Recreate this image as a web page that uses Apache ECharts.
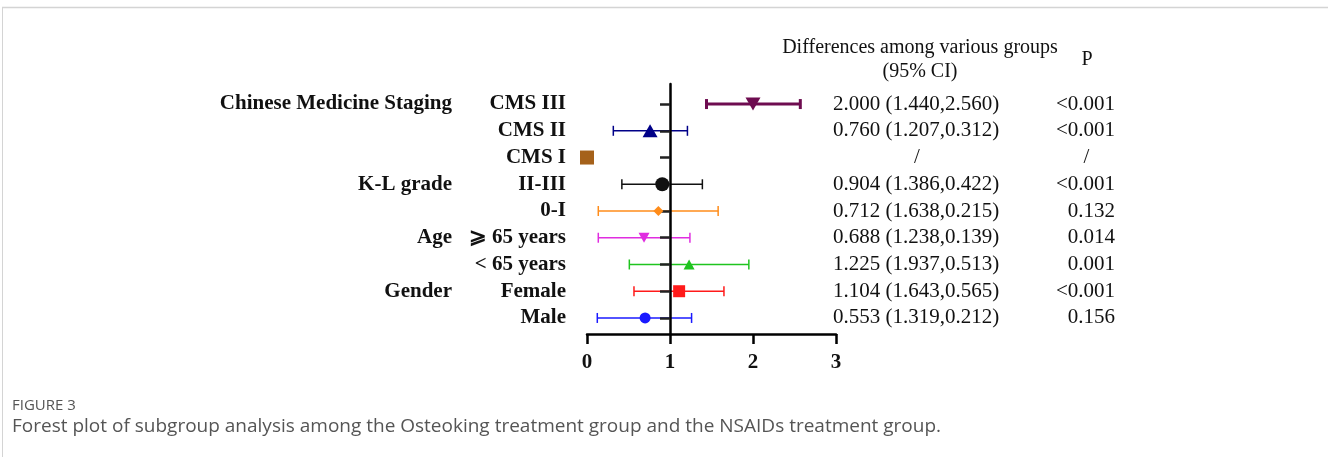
<!DOCTYPE html>
<html>
<head>
<meta charset="utf-8">
<script src="https://cdn.jsdelivr.net/npm/echarts@6/dist/echarts.min.js"></script>
<style>
html,body{margin:0;padding:0;background:#fff;}
#c{width:1328px;height:457px;}
</style>
</head>
<body>
<div id="c"></div>
<script>
// ---- data ----
var subLabels = ['CMS III', 'CMS II', 'CMS I', 'II-III', '0-I', '\u2A7E 65 years', '< 65 years', 'Female', 'Male'];
var groupLabels = ['Chinese Medicine Staging', '', '', 'K-L grade', '', 'Age', '', 'Gender', ''];
var estimates = [2.00, 0.76, 0.00, 0.907, 0.86, 0.687, 1.23, 1.11, 0.70];
var lower =     [1.44, 0.317, null, 0.42, 0.136, 0.136, 0.51, 0.566, 0.124];
var upper =     [2.57, 1.21, null, 1.39, 1.58, 1.24, 1.95, 1.65, 1.26];
var ciText = ['2.000 (1.440,2.560)', '0.760 (1.207,0.312)', '/', '0.904 (1.386,0.422)', '0.712 (1.638,0.215)',
              '0.688 (1.238,0.139)', '1.225 (1.937,0.513)', '1.104 (1.643,0.565)', '0.553 (1.319,0.212)'];
var pText = ['<0.001', '<0.001', '/', '<0.001', '0.132', '0.014', '0.001', '<0.001', '0.156'];
var xTicks = [0, 1, 2, 3];

// ---- styles ----
var colors = ['#6e0c50', '#000088', '#a5611a', '#111111', '#ff8c1a', '#e02de0', '#1fc41f', '#ff1a1a', '#1a1aff'];
var symbols = ['triangle', 'triangle', 'rect', 'circle', 'diamond', 'triangle', 'triangle', 'rect', 'circle'];
var rotations = [180, 0, 0, 0, 0, 180, 0, 0, 0];
var sizes = [[15, 13], [15, 13], 14, 14, 10, [11, 10], [11, 10], 12, 11];
var lineWidths = [3, 1.5, 1.5, 1.5, 1.5, 1.5, 1.5, 1.5, 1.5];

var SERIF = '"Liberation Serif", "Times New Roman", serif';
var rows = subLabels.map(function (_, i) { return i; });

var errData = [];
var ptData = [];
rows.forEach(function (i) {
  if (lower[i] !== null) errData.push([i, lower[i], upper[i]]);
  ptData.push({
    value: [estimates[i], i],
    symbol: symbols[i],
    symbolSize: sizes[i],
    symbolRotate: rotations[i],
    itemStyle: { color: colors[i], opacity: 1 }
  });
});

var yRange = { min: -0.75, max: 8.6 };

var chart = echarts.init(document.getElementById('c'), null, { renderer: 'canvas' });
chart.setOption({
  backgroundColor: '#ffffff',
  animation: false,
  grid: [
    { left: 587, top: 84, width: 249, height: 250 },
    { left: 670, top: 84, width: 163, height: 250 }
  ],
  xAxis: [
    {
      gridIndex: 0, type: 'value', min: 0, max: 3, interval: 1, position: 'bottom',
      axisLine: { show: true, onZero: false, lineStyle: { color: '#000', width: 2.5 } },
      axisTick: { show: true, length: 10, lineStyle: { color: '#000', width: 2.5 } },
      splitLine: { show: false },
      axisLabel: { margin: 18, color: '#111', fontFamily: SERIF, fontWeight: 'bold', fontSize: 21,
        customValues: xTicks }
    },
    { gridIndex: 1, type: 'value', min: 0, max: 1, show: false }
  ],
  yAxis: [
    {
      gridIndex: 0, type: 'value', min: yRange.min, max: yRange.max, inverse: true,
      axisLine: { show: false }, axisTick: { show: false }, splitLine: { show: false },
      axisLabel: {
        show: true, customValues: rows, margin: 21, color: '#111',
        fontFamily: SERIF, fontWeight: 'bold', fontSize: 21,
        formatter: function (v) { return subLabels[Math.round(v)]; }
      }
    },
    {
      gridIndex: 0, type: 'value', min: yRange.min, max: yRange.max, inverse: true, position: 'left',
      axisLine: { show: false }, axisTick: { show: false }, splitLine: { show: false },
      axisLabel: {
        show: true, customValues: [0, 3, 5, 7], margin: 135, color: '#111',
        fontFamily: SERIF, fontWeight: 'bold', fontSize: 21,
        formatter: function (v) { return groupLabels[Math.round(v)]; }
      }
    },
    {
      gridIndex: 1, type: 'value', min: yRange.min, max: yRange.max, inverse: true, position: 'left', z: 5,
      axisLine: { show: true, lineStyle: { color: '#000', width: 2.5 } },
      axisTick: { show: true, customValues: rows, length: 10, lineStyle: { color: '#222', width: 2.5 } },
      axisLabel: { show: false }, splitLine: { show: false }
    },
    {
      gridIndex: 1, type: 'value', min: yRange.min, max: yRange.max, inverse: true, position: 'right',
      axisLine: { show: false }, axisTick: { show: false }, splitLine: { show: false },
      axisLabel: {
        show: true, customValues: rows, margin: 0, color: '#111', fontFamily: SERIF, fontSize: 21,
        formatter: function (v) {
          var t = ciText[Math.round(v)];
          return t === '/' ? '{c|/}' : t;
        },
        rich: { c: { width: 168, align: 'center', fontFamily: SERIF, fontSize: 21, color: '#111' } }
      }
    },
    {
      gridIndex: 1, type: 'value', min: yRange.min, max: yRange.max, inverse: true, position: 'right',
      axisLine: { show: false }, axisTick: { show: false }, splitLine: { show: false },
      axisLabel: {
        show: true, customValues: rows, margin: 282, align: 'right', color: '#111', fontFamily: SERIF, fontSize: 21,
        formatter: function (v) {
          var t = pText[Math.round(v)];
          return t === '/' ? '{c|/}' : t;
        },
        rich: { c: { width: 57, align: 'center', fontFamily: SERIF, fontSize: 21, color: '#111' } }
      }
    }
  ],
  series: [
    {
      type: 'custom', xAxisIndex: 0, yAxisIndex: 0, z: 2,
      data: errData,
      renderItem: function (params, api) {
        var r = api.value(0);
        var p1 = api.coord([api.value(1), r]);
        var p2 = api.coord([api.value(2), r]);
        var col = colors[r];
        var lw = lineWidths[r];
        var cap = 5;
        var st = { stroke: col, lineWidth: lw };
        return {
          type: 'group',
          children: [
            { type: 'line', shape: { x1: p1[0], y1: p1[1], x2: p2[0], y2: p2[1] }, style: st },
            { type: 'line', shape: { x1: p1[0], y1: p1[1] - cap, x2: p1[0], y2: p1[1] + cap }, style: st },
            { type: 'line', shape: { x1: p2[0], y1: p2[1] - cap, x2: p2[0], y2: p2[1] + cap }, style: st }
          ]
        };
      }
    },
    {
      type: 'scatter', xAxisIndex: 0, yAxisIndex: 0, z: 6,
      data: ptData
    }
  ],
  graphic: [
    { type: 'line', shape: { x1: 2, y1: 7.5, x2: 1328, y2: 7.5 }, style: { stroke: '#d4d4d4', lineWidth: 1.5 } },
    { type: 'line', shape: { x1: 2.5, y1: 7, x2: 2.5, y2: 457 }, style: { stroke: '#d4d4d4', lineWidth: 1 } },
    { type: 'text', x: 920, y: 48, style: { text: 'Differences among various groups', align: 'center', verticalAlign: 'middle',
        font: '20px ' + SERIF, fill: '#111' } },
    { type: 'text', x: 920, y: 72, style: { text: '(95% CI)', align: 'center', verticalAlign: 'middle',
        font: '20px ' + SERIF, fill: '#111' } },
    { type: 'text', x: 1087, y: 60, style: { text: 'P', align: 'center', verticalAlign: 'middle',
        font: '20px ' + SERIF, fill: '#111' } },
    { type: 'text', x: 12, y: 406, style: { text: 'FIGURE 3', align: 'left', verticalAlign: 'middle',
        font: '15px "Open Sans", sans-serif', fill: '#555' } },
    { type: 'text', x: 12, y: 427, style: { text: 'Forest plot of subgroup analysis among the Osteoking treatment group and the NSAIDs treatment group.',
        align: 'left', verticalAlign: 'middle', font: '19px "Open Sans", sans-serif', fill: '#555' } }
  ]
});
</script>
</body>
</html>
